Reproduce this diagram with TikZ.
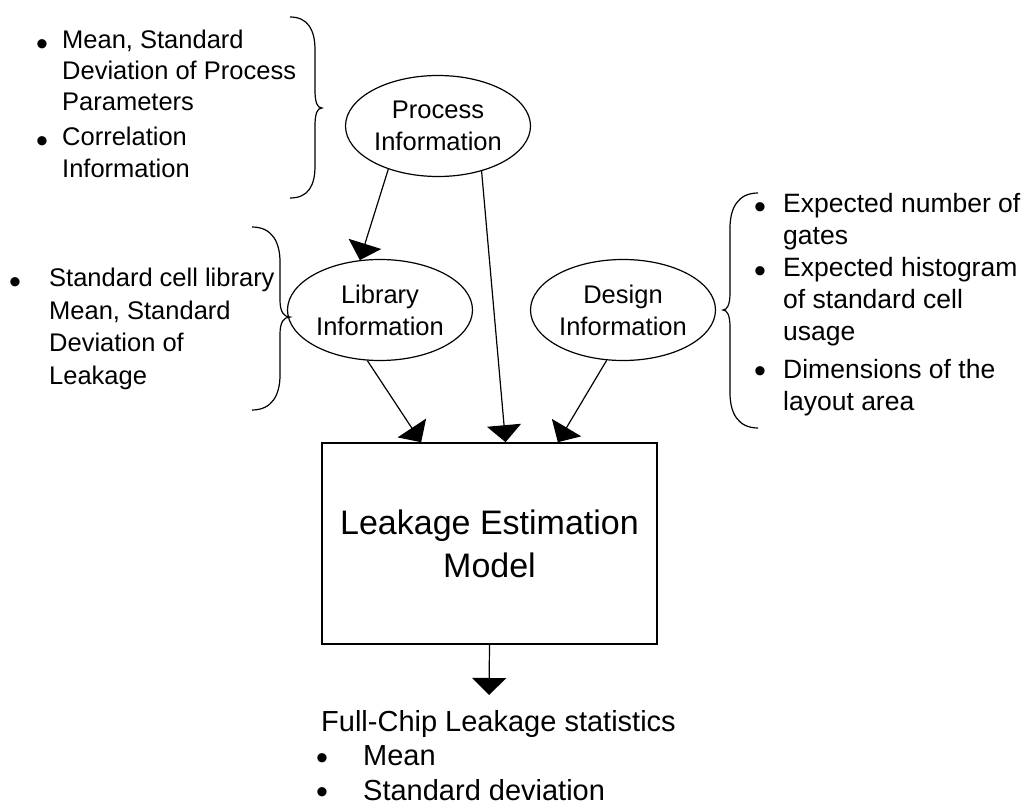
\documentclass[tikz,border=0pt]{standalone}
\usepackage{fontspec}
\setmainfont{Liberation Sans}
\usetikzlibrary{shapes.geometric,arrows.meta}

\tikzset{
  info/.style={ellipse, draw, line width=1.2pt, minimum width=185pt, minimum height=101pt,
    inner sep=0pt, align=center, font=\fontsize{25.5}{32}\selectfont},
  modelbox/.style={draw, line width=1.6pt, minimum width=335pt, minimum height=201pt,
    inner sep=0pt, align=center, font=\fontsize{34}{43}\selectfont},
  note/.style={anchor=north west, inner sep=0pt, align=left, font=\fontsize{25.5}{31}\selectfont},
  dot/.style={anchor=base, inner sep=0pt, yshift=-7.5pt, font=\fontsize{34}{34}\selectfont},
  flow/.style={-{Triangle[length=17pt,width=34pt]}, line width=1.2pt},
  curly/.style={line width=1.2pt}
}

\begin{document}
\begin{tikzpicture}[x=1pt,y=-1pt]
  \useasboundingbox (0,0) rectangle (1032,810);

  % sources and model
  \node[info] (proc) at (438,126) {Process\\Information};
  \node[info] (lib)  at (380,310) {Library\\Information};
  \node[info] (des)  at (623,310) {Design\\Information};
  \node[modelbox] (model) at (489.5,543.5) {Leakage Estimation\\Model};
  \coordinate (out) at (489,695);

  % connectors
  \draw[flow] (proc.221) -- (lib.112);
  \draw[flow] (proc.314) -- (model.81);
  \draw[flow] (lib.256)  -- (model.124);
  \draw[flow] (des.252)  -- (model.56);
  \draw[flow] (model.south) -- (out);

  % braces
  \draw[curly] (290,17) .. controls (308,17) and (315,30) .. (315,50) -- (315,90)
    .. controls (315,102) and (317,108) .. (322,108)
    .. controls (317,108) and (315,114) .. (315,126) -- (315,166)
    .. controls (315,186) and (308,198) .. (290,198);
  \draw[curly] (252,227) .. controls (272,227) and (280,242) .. (280,262) -- (280,300)
    .. controls (280,312) and (284,317) .. (290,317)
    .. controls (284,317) and (280,322) .. (280,334) -- (280,375)
    .. controls (280,395) and (272,410) .. (252,410);
  \draw[curly] (758,193) .. controls (738,193) and (730,208) .. (730,228) -- (730,293)
    .. controls (730,305) and (727,310) .. (723,310)
    .. controls (727,310) and (730,315) .. (730,327) -- (730,393)
    .. controls (730,413) and (738,428) .. (758,428);

  % process notes
  \node[dot] (pb1) at (42,48) {\textbullet};
  \node[note] (pmean) at (62,30) {Mean, Standard\\Deviation of Process\\Parameters};
  \node[dot] (pb2) at (42,145) {\textbullet};
  \node[note, font=\fontsize{25.5}{32}\selectfont] (pcorr) at (62,127) {Correlation\\Information};

  % library notes
  \node[dot] (lb1) at (15,286) {\textbullet};
  \node[note, font=\fontsize{25.5}{32.5}\selectfont] (lcell) at (49,268)
    {Standard cell library\\Mean, Standard\\Deviation of\\Leakage};

  % design notes
  \node[dot] (db1) at (760,211) {\textbullet};
  \node[note, font=\fontsize{26.5}{32}\selectfont] (dgates) at (783,193) {Expected number of\\gates};
  \node[dot] (db2) at (760,275) {\textbullet};
  \node[note, font=\fontsize{26.5}{32}\selectfont] (dhist) at (783,257) {Expected histogram\\of standard cell\\usage};
  \node[dot] (db3) at (760,375) {\textbullet};
  \node[note, font=\fontsize{26.5}{32}\selectfont] (darea) at (783,359) {Dimensions of the\\layout area};

  % output statistics
  \node[note, font=\fontsize{29}{35}\selectfont] (stats) at (321,710) {Full-Chip Leakage statistics};
  \node[dot] (sb1) at (322,762) {\textbullet};
  \node[note, font=\fontsize{29}{35}\selectfont] (smean) at (363,745) {Mean};
  \node[dot] (sb2) at (322,796) {\textbullet};
  \node[note, font=\fontsize{29}{35}\selectfont] (ssd) at (363,779) {Standard deviation};
\end{tikzpicture}
\end{document}
